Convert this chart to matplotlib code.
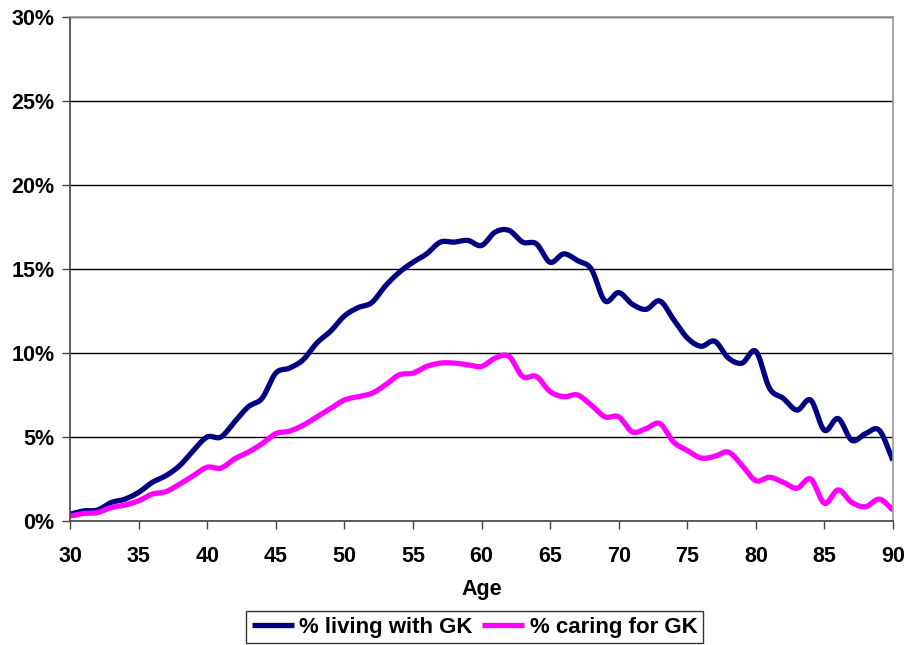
import matplotlib.pyplot as plt
import numpy as np
from matplotlib.ticker import FuncFormatter, MultipleLocator

plt.rcParams["font.family"] = ["Liberation Sans", "DejaVu Sans"]
plt.rcParams["font.weight"] = "bold"

ages = np.arange(30, 91)

# % living with grandkids
living = [0.4, 0.6, 0.65, 1.1, 1.3, 1.7, 2.3, 2.7, 3.3, 4.2,
          5.0, 5.0, 5.9, 6.8, 7.3, 8.8, 9.1, 9.6, 10.6, 11.3,
          12.2, 12.7, 13.0, 14.0, 14.8, 15.4, 15.9, 16.6, 16.6, 16.7,
          16.4, 17.2, 17.3, 16.6, 16.5, 15.4, 15.9, 15.5, 15.0, 13.1,
          13.6, 12.9, 12.6, 13.1, 12.0, 10.9, 10.4, 10.7, 9.7, 9.4,
          10.1, 7.9, 7.3, 6.6, 7.2, 5.4, 6.1, 4.8, 5.2, 5.4,
          3.6]

# % caring for grandkids
caring = [0.3, 0.45, 0.5, 0.8, 0.95, 1.2, 1.6, 1.75, 2.2, 2.7,
          3.2, 3.15, 3.7, 4.1, 4.6, 5.2, 5.35, 5.7, 6.2, 6.7,
          7.2, 7.4, 7.6, 8.1, 8.7, 8.8, 9.2, 9.4, 9.4, 9.3,
          9.2, 9.7, 9.8, 8.6, 8.6, 7.7, 7.4, 7.5, 6.9, 6.2,
          6.2, 5.3, 5.5, 5.8, 4.7, 4.2, 3.75, 3.85, 4.1, 3.3,
          2.4, 2.6, 2.3, 1.95, 2.5, 1.05, 1.85, 1.1, 0.85, 1.3,
          0.65]


def smooth(x, y, n=12):
    # Catmull-Rom curve through the points, like Excel's smoothed line
    x = np.asarray(x, float)
    y = np.asarray(y, float)
    px = np.concatenate([[2 * x[0] - x[1]], x, [2 * x[-1] - x[-2]]])
    py = np.concatenate([[2 * y[0] - y[1]], y, [2 * y[-1] - y[-2]]])
    t = np.linspace(0, 1, n, endpoint=False)[:, None]
    res = []
    for p in (px, py):
        p0, p1, p2, p3 = p[:-3], p[1:-2], p[2:-1], p[3:]
        seg = 0.5 * (2 * p1 + (-p0 + p2) * t + (2 * p0 - 5 * p1 + 4 * p2 - p3) * t ** 2
                     + (-p0 + 3 * p1 - 3 * p2 + p3) * t ** 3)
        res.append(np.concatenate([seg.T.ravel(), [p[-2]]]))
    return res[0], res[1]


fig = plt.figure(figsize=(9.09, 6.45), dpi=100)
ax = fig.add_axes([70 / 909, 1 - 521 / 645, 823 / 909, 504 / 645])

xs, ys = smooth(ages, living)
ax.plot(xs, ys, color="#000080", lw=3.8, label="% living with GK", solid_capstyle="butt")
xs, ys = smooth(ages, caring)
ax.plot(xs, ys, color="#FF00FF", lw=3.8, label="% caring for GK", solid_capstyle="butt")

ax.set_xlim(30, 90)
ax.set_ylim(0, 30)
ax.xaxis.set_major_locator(MultipleLocator(5))
ax.yaxis.set_major_locator(MultipleLocator(5))
ax.yaxis.set_major_formatter(FuncFormatter(lambda v, _: "{:d}%".format(int(round(v)))))
ax.grid(axis="y", color="black", lw=1)
ax.set_axisbelow(True)

for side in ("top", "right"):
    ax.spines[side].set_color("#999999")
    ax.spines[side].set_linewidth(1.2)
for side in ("left", "bottom"):
    ax.spines[side].set_color("#444444")
    ax.spines[side].set_linewidth(1.2)

ax.tick_params(axis="both", direction="out", length=6, width=1, color="#444444",
               labelsize=15.5, pad=5)
ax.tick_params(axis="x", pad=12)
ax.set_xlabel("Age", fontsize=15.5, fontweight="bold", labelpad=9)

leg = fig.legend(loc="lower center", bbox_to_anchor=(0.522, 0.003), ncol=2, fontsize=16,
                 frameon=True, fancybox=False, edgecolor="black", handlelength=1.9,
                 handletextpad=0.25, columnspacing=0.4, borderpad=0.25, borderaxespad=0)
leg.get_frame().set_linewidth(1.0)

fig.savefig("out.png", dpi=100)
